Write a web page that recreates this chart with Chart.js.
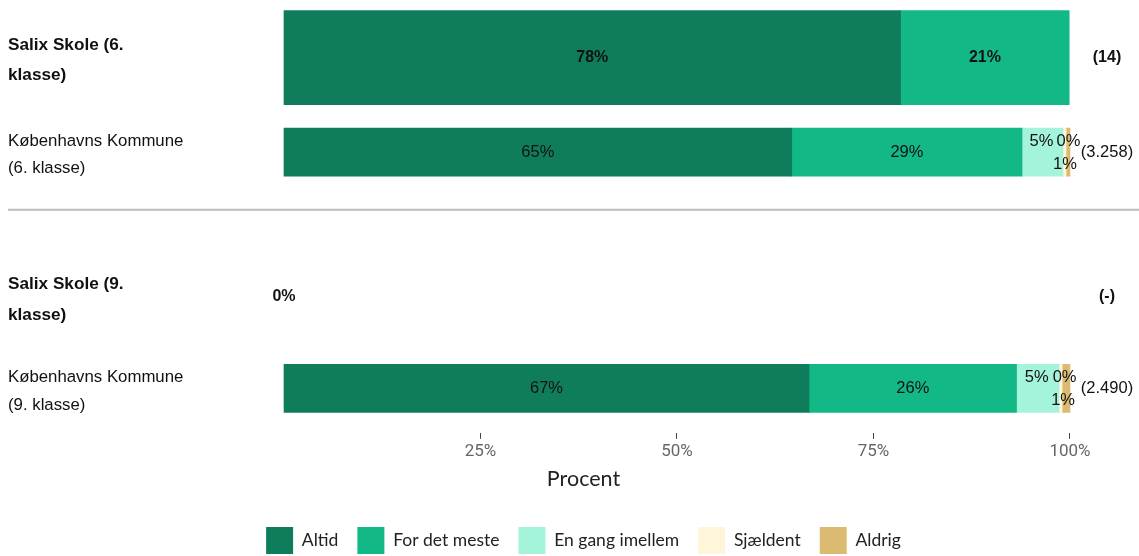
<!DOCTYPE html>
<html>
<head>
  <meta charset="utf-8">
  <title>Altid / For det meste</title>
  <script src="https://cdn.jsdelivr.net/npm/chart.js"></script>
  <style>
    html, body { margin: 0; padding: 0; background: #fff; }
    #wrap { width: 1139px; height: 556px; position: relative; }
  </style>
</head>
<body>
  <div id="wrap"><canvas id="chart"></canvas></div>

  <script>
    // rows, top to bottom
    const rowLabels = [
      ['Salix Skole (6.', 'klasse)'],
      ['Københavns Kommune', '(6. klasse)'],
      ['Salix Skole (9.', 'klasse)'],
      ['Københavns Kommune', '(9. klasse)']
    ];
    const rowPos = [0, 1, 2.53, 3.5];
    const isSchool = [true, false, true, false];
    const counts = ['(14)', '(3.258)', '(-)', '(2.490)'];

    const categories = ['Altid', 'For det meste', 'En gang imellem', 'Sjældent', 'Aldrig'];
    const altid = [78.45, 64.6, null, 66.8];
    const forDetMeste = [21.45, 29.3, null, 26.4];
    const enGang = [null, 5.2, null, 5.4];
    const sjaeldent = [null, 0.4, null, 0.4];
    const aldrig = [null, 0.5, null, 1.0];
    const xTicks = [25, 50, 75, 100];

    const seriesValues = [altid, forDetMeste, enGang, sjaeldent, aldrig];
    const colors = ['#0f7d5b', '#13b887', '#a4f4dc', '#fff5da', '#dbba72'];

    const datasets = [];
    categories.forEach((cat, ci) => {
      [true, false].forEach(school => {
        datasets.push({
          label: cat,
          catIndex: ci,
          school,
          stack: school ? 'school' : 'kommune',
          data: rowPos
            .map((y, ri) => ({ x: seriesValues[ci][ri], y, ri }))
            .filter(d => isSchool[d.ri] === school && d.x !== null),
          backgroundColor: colors[ci],
          borderWidth: 0,
          barThickness: school ? 94 : 48,
          grouped: false
        });
      });
    });

    const labelPlugin = {
      id: 'barLabels',
      afterDatasetsDraw(chart) {
        const ctx = chart.ctx;
        const xs = chart.scales.x, ys = chart.scales.y;
        ctx.save();
        ctx.textAlign = 'center';
        ctx.textBaseline = 'middle';
        ctx.fillStyle = '#111';

        // separator between the two grades
        ctx.strokeStyle = '#bdbdbd';
        ctx.lineWidth = 2;
        const sy = ys.getPixelForValue(1.61);
        ctx.beginPath();
        ctx.moveTo(8, sy);
        ctx.lineTo(chart.width, sy);
        ctx.stroke();

        chart.data.datasets.forEach((ds, di) => {
          const meta = chart.getDatasetMeta(di);
          meta.data.forEach((bar, i) => {
            const v = ds.data[i].x;
            if (!v) return;
            const txt = Math.round(v) + '%';
            const c = bar.getCenterPoint();
            let dx = 0, dy = 0;
            if (v < 8) {
              if (ds.catIndex === 2) { dy = -11; dx = -1; }
              if (ds.catIndex === 3) { dy = -11; dx = 4; }
              if (ds.catIndex === 4) { dy = 12; dx = -3; }
            }
            ctx.font = ds.school ? 'bold 16px "Liberation Sans"' : '16.5px "Liberation Sans"';
            ctx.fillText(txt, c.x + dx, c.y + dy);
          });
        });

        rowPos.forEach((p, ri) => {
          const y = ys.getPixelForValue(p);
          ctx.font = isSchool[ri] ? 'bold 16px "Liberation Sans"' : '16.5px "Liberation Sans"';
          const total = seriesValues.reduce((s, arr) => s + (arr[ri] || 0), 0);
          if (total === 0) ctx.fillText('0%', xs.getPixelForValue(0), y);
          ctx.fillText(counts[ri], xs.getPixelForValue(100) + 37, y);
        });
        ctx.restore();
      }
    };

    const ctx = document.getElementById('chart').getContext('2d');
    new Chart(ctx, {
      type: 'bar',
      data: { datasets },
      plugins: [labelPlugin],
      options: {
        indexAxis: 'y',
        responsive: true,
        maintainAspectRatio: false,
        animation: false,
        layout: { padding: { left: 0, right: 0, top: 0, bottom: -8 } },
        scales: {
          x: {
            type: 'linear',
            stacked: true,
            min: -32.57,
            max: 108.78,
            afterBuildTicks: s => { s.ticks = xTicks.map(v => ({ value: v })); },
            ticks: {
              color: '#666',
              font: { family: 'Roboto', size: 17 },
              padding: 3,
              callback: v => v + '%'
            },
            grid: { display: true, drawOnChartArea: false, drawTicks: true, tickLength: 6, color: '#444' },
            border: { display: false },
            title: {
              display: true,
              text: 'Procent',
              color: '#222',
              font: { family: 'Lato', size: 21.5 },
              padding: { top: 1, bottom: 16 }
            }
          },
          y: {
            type: 'linear',
            stacked: true,
            reverse: true,
            offset: false,
            min: -0.61,
            max: 3.97,
            afterBuildTicks: s => { s.ticks = rowPos.map(v => ({ value: v })); },
            afterFit: s => { s.width = 28; s.paddingTop = 0; s.paddingBottom = 0; },
            ticks: {
              autoSkip: false,
              mirror: true,
              crossAlign: 'near',
              padding: -20,
              labelOffset: 3,
              color: '#111',
              font: c => isSchool[c.index]
                ? { family: 'Liberation Sans', size: 17.2, weight: 'bold', lineHeight: 1.75 }
                : { family: 'Liberation Sans', size: 16.8, lineHeight: 1.62 },
              callback: (v, i) => rowLabels[i]
            },
            grid: { display: false, offset: false },
            border: { display: false }
          }
        },
        plugins: {
          legend: {
            position: 'bottom',
            fullSize: false,
            labels: {
              boxWidth: 27,
              boxHeight: 27,
              padding: 19,
              color: '#222',
              font: { family: 'Lato', size: 17.5 },
              filter: item => item.datasetIndex % 2 === 0
            }
          },
          tooltip: { enabled: false }
        }
      }
    });
  </script>
</body>
</html>
